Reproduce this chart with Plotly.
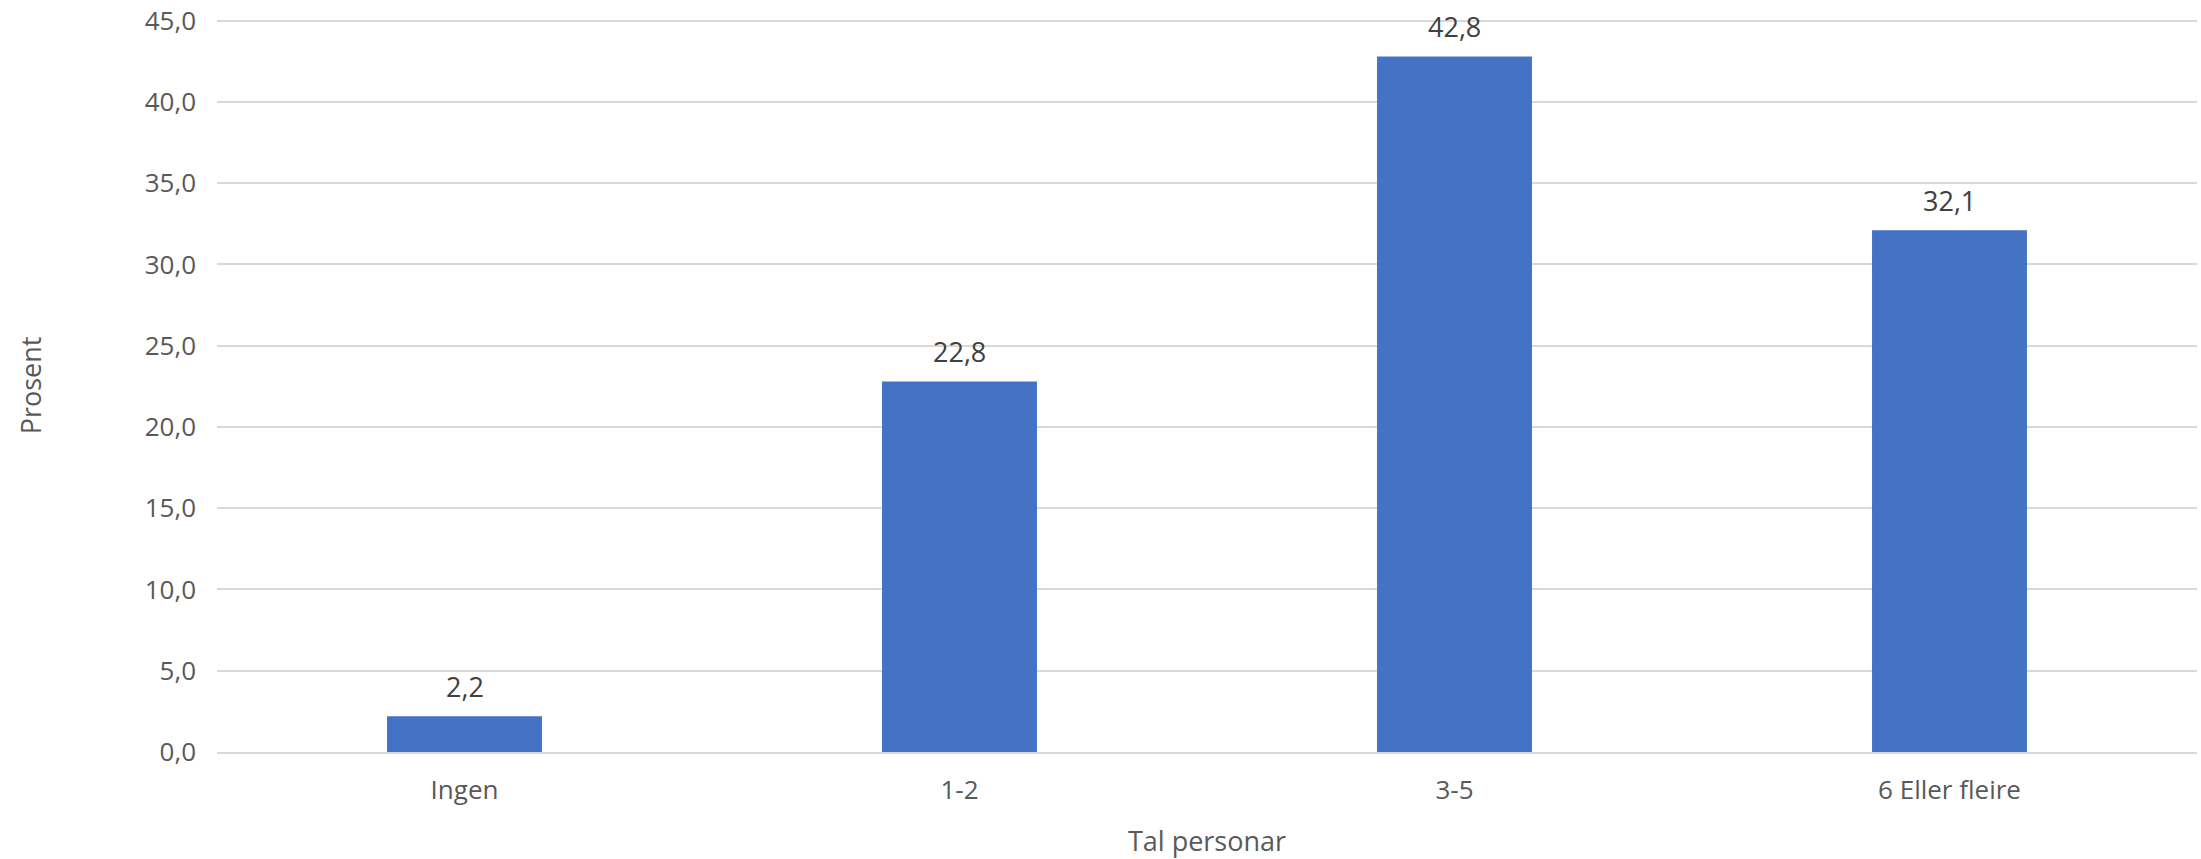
import plotly.graph_objects as go

categories = ["Ingen", "1-2", "3-5", "6 Eller fleire"]
values = [2.2, 22.8, 42.8, 32.1]
y_ticks = [0, 5, 10, 15, 20, 25, 30, 35, 40, 45]
y_tick_labels = ["0,0", "5,0", "10,0", "15,0", "20,0", "25,0", "30,0", "35,0", "40,0", "45,0"]
value_labels = ["2,2", "22,8", "42,8", "32,1"]

FONT = "Open Sans"
GREY = "#595959"

fig = go.Figure()
fig.add_trace(go.Bar(
    x=categories,
    y=values,
    marker=dict(color="#4472C4", line=dict(width=0)),
    width=0.313,
    hoverinfo="skip",
))

for cat, val, lab in zip(categories, values, value_labels):
    fig.add_annotation(
        x=cat, y=val, text=lab, showarrow=False,
        yanchor="bottom", yshift=9,
        font=dict(family=FONT, size=27, color="#404040"),
    )

fig.update_layout(
    width=2201,
    height=859,
    margin=dict(l=217, r=4, t=19, b=107, autoexpand=False),
    paper_bgcolor="white",
    plot_bgcolor="white",
    showlegend=False,
    font=dict(family=FONT, size=26, color=GREY),
)
fig.update_xaxes(
    range=[-0.5, 3.5],
    showgrid=False,
    showline=True,
    linecolor="#d9d9d9",
    linewidth=2,
    ticks="",
    tickfont=dict(family=FONT, size=26, color=GREY),
    ticklabelstandoff=14,
    automargin=False,
    title=dict(text="Tal personar", font=dict(family=FONT, size=27, color=GREY), standoff=30),
)
fig.update_yaxes(
    range=[0, 45.1],
    tickvals=y_ticks,
    ticktext=y_tick_labels,
    showgrid=True,
    gridcolor="#d9d9d9",
    gridwidth=2,
    zeroline=False,
    showline=False,
    ticks="",
    tickfont=dict(family=FONT, size=26, color=GREY),
    ticklabelstandoff=20,
    ticklabeloverflow="allow",
    automargin=False,
    title=dict(text="Prosent", font=dict(family=FONT, size=27, color=GREY), standoff=95),
)

fig.write_html(
    "out.html",
    config={"displayModeBar": False},
    post_script="document.body.style.margin='0';document.body.style.overflow='hidden';",
)
